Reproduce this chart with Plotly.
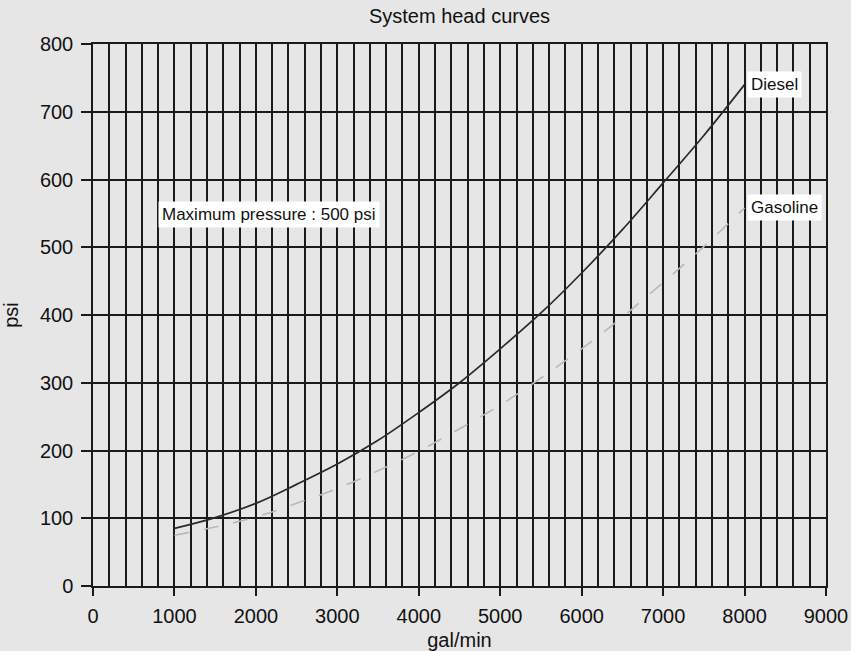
import plotly.graph_objects as go

# Data
flow = [1000, 1500, 2000, 2500, 3000, 3500, 4000, 4500, 5000, 5500, 6000, 6500, 7000, 7500, 8000]
diesel = [85, 101, 122, 150, 180, 215, 256, 300, 350, 403, 462, 526, 595, 665, 740]
gasoline = [75, 87, 102, 122, 144, 170, 199, 232, 267, 307, 350, 397, 448, 501, 558]

x_ticks = [0, 1000, 2000, 3000, 4000, 5000, 6000, 7000, 8000, 9000]
y_ticks = [0, 100, 200, 300, 400, 500, 600, 700, 800]

title_text = "System head curves"
x_title = "gal/min"
y_title = "psi"
note_text = "Maximum pressure : 500 psi"
note_pos = (800, 549)

FONT = "Liberation Sans, Arial, Helvetica, sans-serif"
BG = "#e6e6e6"
GRID = "#1a1a1a"

fig = go.Figure()
fig.add_trace(go.Scatter(x=flow, y=gasoline, mode="lines", name="Gasoline",
                         line=dict(color="#b8b8b8", width=1.6, dash="longdash", shape="spline")))
fig.add_trace(go.Scatter(x=flow, y=diesel, mode="lines", name="Diesel",
                         line=dict(color="#2a2a2a", width=1.7, shape="spline")))

fig.add_annotation(x=flow[-1], y=diesel[-1], text="Diesel", showarrow=False,
                   xanchor="left", yanchor="middle", xshift=2, bgcolor="white", borderpad=3,
                   font=dict(family=FONT, size=17, color="#111"))
fig.add_annotation(x=flow[-1], y=gasoline[-1], text="Gasoline", showarrow=False,
                   xanchor="left", yanchor="middle", xshift=2, bgcolor="white", borderpad=3,
                   font=dict(family=FONT, size=17, color="#111"))
fig.add_annotation(x=note_pos[0], y=note_pos[1], text=note_text, showarrow=False,
                   xanchor="left", yanchor="middle", bgcolor="white", borderpad=3,
                   font=dict(family=FONT, size=17, color="#111"))

fig.update_layout(
    width=851, height=651,
    margin=dict(l=93, r=25, t=44, b=65),
    paper_bgcolor=BG, plot_bgcolor=BG,
    showlegend=False,
    font=dict(family=FONT, size=20, color="#111"),
    title=dict(text=title_text, x=(93 + 826) / 2 / 851, xanchor="center",
               y=1 - 16 / 651, yanchor="middle", yref="container",
               font=dict(family=FONT, size=20, color="#111")),
)
fig.update_xaxes(
    range=[0, 9000], tickvals=x_ticks, ticktext=[str(v) for v in x_ticks],
    ticks="outside", ticklen=8, tickwidth=1.5, tickcolor=GRID, ticklabelstandoff=3,
    showgrid=True, gridcolor=GRID, gridwidth=1.5,
    minor=dict(dtick=200, showgrid=True, gridcolor=GRID, gridwidth=1.5, ticks=""),
    showline=True, linecolor=GRID, linewidth=1.5, mirror=True,
    zeroline=False, automargin=False,
    title=dict(text=x_title, standoff=15, font=dict(size=20)),
)
fig.update_yaxes(
    range=[0, 800], tickvals=y_ticks, ticktext=[str(v) for v in y_ticks],
    ticks="outside", ticklen=10, tickwidth=1.5, tickcolor=GRID, ticklabelstandoff=4,
    showgrid=True, gridcolor=GRID, gridwidth=1.5,
    showline=True, linecolor=GRID, linewidth=1.5, mirror=True,
    zeroline=False, automargin=False,
    title=dict(text=y_title, standoff=18, font=dict(size=20)),
)

fig.write_html("out.html", config={"displayModeBar": False},
               post_script="document.body.style.margin='0px';")
